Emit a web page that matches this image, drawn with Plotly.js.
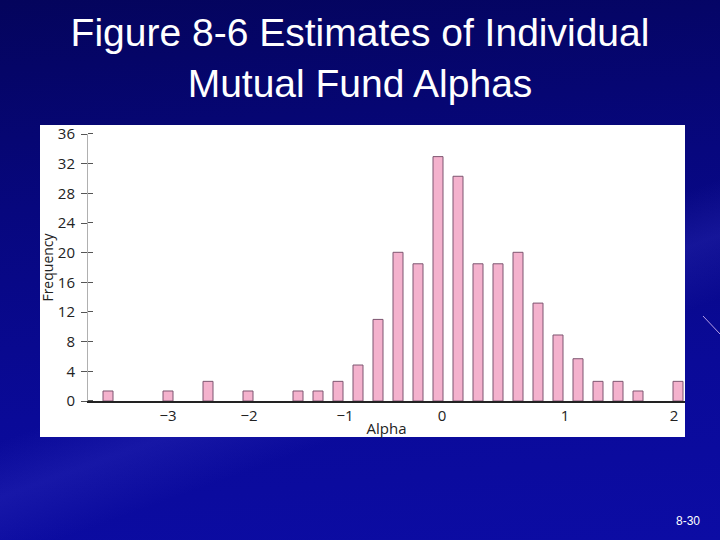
<!DOCTYPE html>
<html>
<head>
<meta charset="utf-8">
<script src="https://cdn.plot.ly/plotly-3.0.1.min.js"></script>
<style>
  html, body { margin: 0; padding: 0; }
  body {
    width: 720px; height: 540px; overflow: hidden;
    background:
      linear-gradient(160deg, rgba(40,40,170,0) 55%, rgba(60,60,200,0.25) 62%, rgba(40,40,170,0) 70%),
      linear-gradient(175deg, #04045c 0%, #07077e 35%, #0a0a98 70%, #0c0ca4 100%);
  }
  #chart { width: 720px; height: 540px; }
</style>
</head>
<body>
<div id="chart"></div>
<script>
// Bin centres of alpha and their frequencies
const alphaBins = [-3.4, -2.8, -2.4, -2.0, -1.5, -1.3, -1.1, -0.9, -0.7, -0.5, -0.3, -0.1,
                   0.1, 0.3, 0.5, 0.7, 0.9, 1.1, 1.3, 1.5, 1.7, 1.9, 2.3];
const frequency = [1.35, 1.35, 2.65, 1.35, 1.35, 1.35, 2.65, 4.85, 11.0, 20.05, 18.5, 32.95,
                   30.3, 18.5, 18.5, 20.05, 13.2, 8.9, 5.7, 2.65, 2.65, 1.35, 2.65];
// x tick labels and where they sit on the axis in the reference figure
const xTickPositions = [-2.8, -1.99, -1.03, -0.06, 1.17, 2.26];
const xTickLabels = ['\u22123', '\u22122', '\u22121', '0', '1', '2'];
const yTickValues = [0, 4, 8, 12, 16, 20, 24, 28, 32, 36];

const titleText = 'Figure 8-6 Estimates of Individual<br>Mutual Fund Alphas';
const slideNumber = '8-30';

const tickFont = { family: 'Open Sans, Arial, sans-serif', size: 15, color: '#222222' };

const trace = {
  type: 'bar',
  x: alphaBins,
  y: frequency,
  width: 0.1,
  marker: { color: '#f4b2cd', line: { color: '#7d5570', width: 1 } },
  hoverinfo: 'x+y'
};

const W = 720, H = 540;
const L = 88, R = 35, T = 134, B = 139;
const pw = W - L - R, ph = H - T - B;
const px = v => (v - L) / pw;
const py = v => (H - B - v) / ph;

const layout = {
  width: W, height: H,
  margin: { l: L, r: R, t: T, b: B, pad: 0 },
  paper_bgcolor: 'rgba(0,0,0,0)',
  plot_bgcolor: '#ffffff',
  showlegend: false,
  bargap: 0,
  title: {
    text: titleText,
    x: 0.5, xanchor: 'center',
    y: 1 - 46 / H, yanchor: 'middle',
    font: { family: 'Liberation Sans, Arial, sans-serif', size: 39, color: '#ffffff' }
  },
  xaxis: {
    range: [-3.6, 2.37],
    showgrid: false, zeroline: false,
    showline: true, linecolor: '#222222', linewidth: 1.5,
    ticks: '',
    tickmode: 'array', tickvals: xTickPositions, ticktext: xTickLabels,
    tickfont: tickFont,
    title: { text: 'Alpha', font: { family: 'Open Sans, Arial, sans-serif', size: 15, color: '#222222' }, standoff: 0 }
  },
  yaxis: {
    range: [0, 36],
    showgrid: false, zeroline: false,
    showline: true, linecolor: '#b0b0b0', linewidth: 1,
    ticks: 'outside', ticklen: 6, tickcolor: '#555555', tickwidth: 1,
    ticklabelstandoff: 3,
    tickmode: 'array', tickvals: yTickValues,
    tickfont: tickFont,
    minor: {
      ticks: 'inside', ticklen: 5, tickcolor: '#555555', tickwidth: 1,
      tickmode: 'array', tickvals: yTickValues.map(v => v + 0.001)
    },
    title: { text: 'Frequency', font: { family: 'Open Sans, Arial, sans-serif', size: 14, color: '#222222' }, standoff: 0 }
  },
  shapes: [
    { type: 'rect', xref: 'paper', yref: 'paper', layer: 'below',
      x0: px(40), x1: px(685), y0: py(437), y1: py(125),
      fillcolor: '#ffffff', line: { width: 0 } },
    { type: 'line', xref: 'paper', yref: 'paper', layer: 'below',
      x0: px(703), x1: px(720), y0: py(316), y1: py(334),
      line: { color: '#b8a0e8', width: 1 } }
  ],
  annotations: [
    { text: slideNumber, xref: 'paper', yref: 'paper', x: px(688), y: py(521),
      xanchor: 'center', yanchor: 'middle', showarrow: false,
      font: { family: 'Liberation Sans, Arial, sans-serif', size: 12, color: '#ffffff' } }
  ]
};

Plotly.newPlot('chart', [trace], layout, { displayModeBar: false, staticPlot: true });
</script>
</body>
</html>
